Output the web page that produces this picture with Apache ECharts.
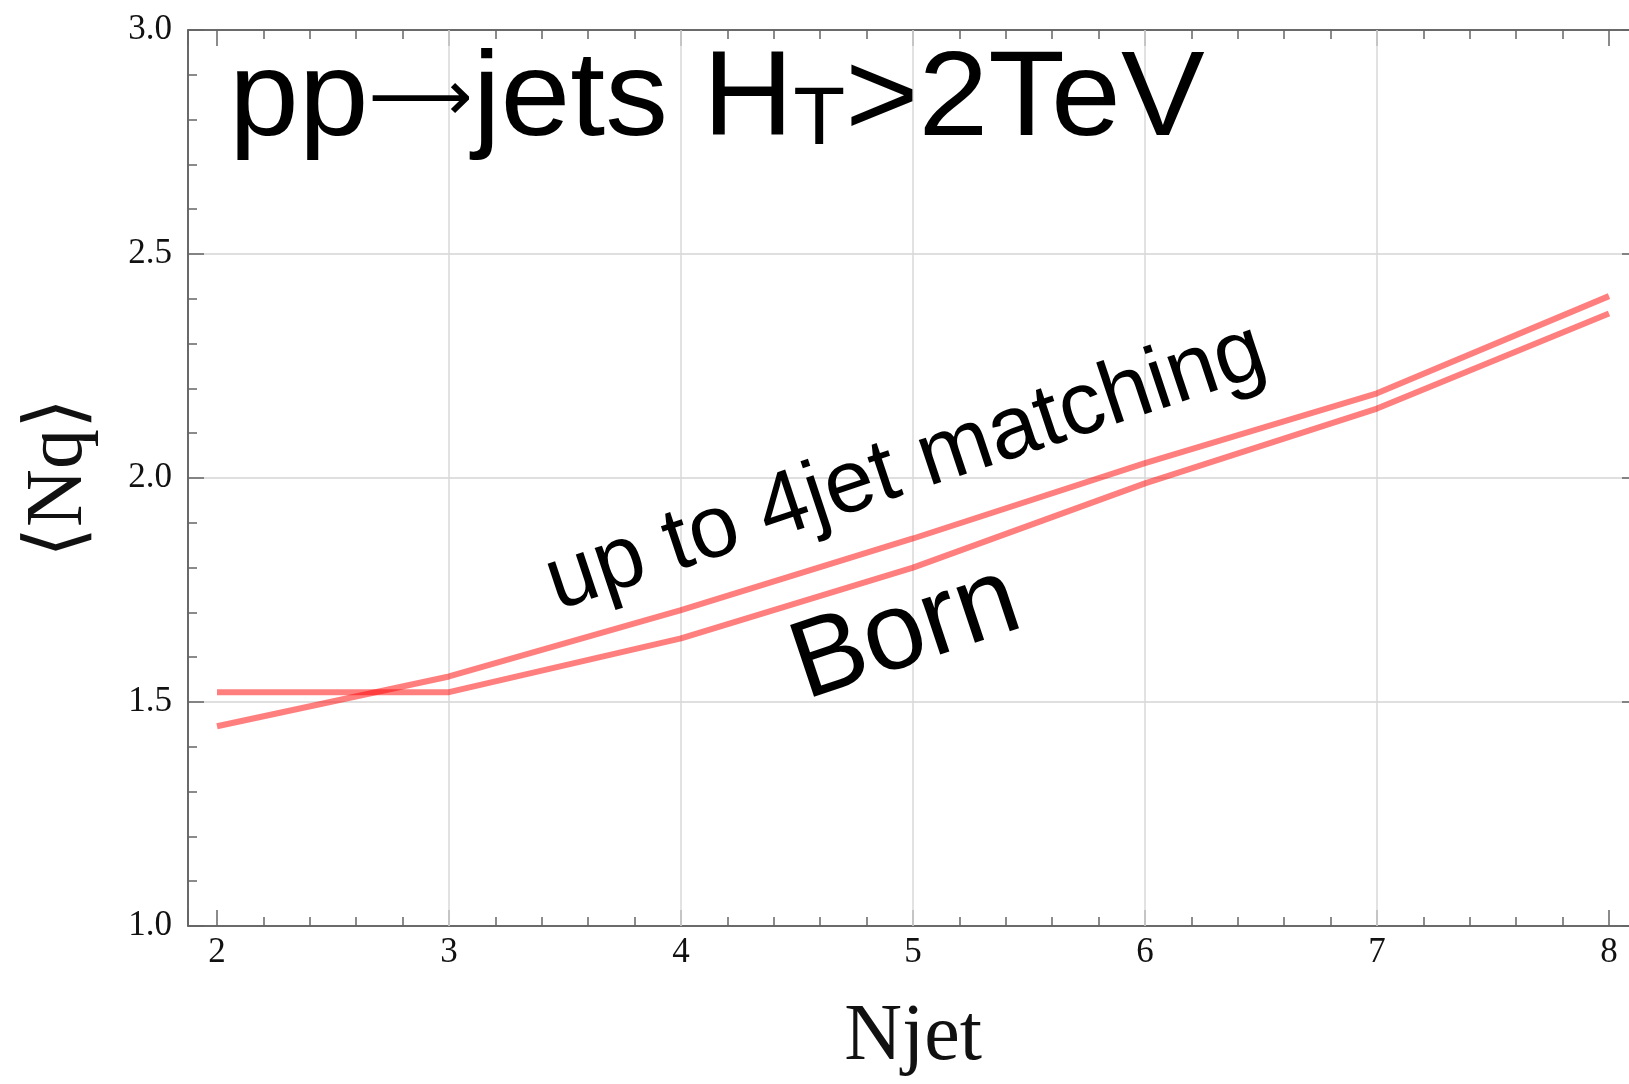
<!DOCTYPE html>
<html>
<head>
<meta charset="utf-8">
<script src="https://cdn.jsdelivr.net/npm/echarts@6/dist/echarts.min.js"></script>
<style>html,body{margin:0;padding:0;background:#fff;overflow:hidden;width:1629px;height:1084px;}#c{width:1660px;height:1084px;}</style>
</head>
<body>
<div id="c"></div>
<script>
const njet = [2, 3, 4, 5, 6, 7, 8];
const born = [1.522, 1.522, 1.642, 1.800, 1.988, 2.155, 2.367];
const matched = [1.446, 1.557, 1.705, 1.865, 2.033, 2.189, 2.406];
const xGrid = [3, 4, 5, 6, 7];
const xRange = [1.875, 8.125];
const yRange = [1.0, 3.0];
const yStep = 0.5;

const chart = echarts.init(document.getElementById('c'));
const axisLineStyle = { color: '#444', width: 1.6 };
const tickStyle = { color: '#666', width: 1.5 };
const serif = 'Liberation Serif, Times New Roman, serif';
const sans = 'Liberation Sans, Arial, sans-serif';

function xAx(pos, showLabel) {
  return {
    type: 'value', position: pos, min: xRange[0], max: xRange[1], splitNumber: 6,
    axisLine: { show: true, onZero: false, lineStyle: axisLineStyle },
    axisTick: { show: true, inside: true, length: 16, lineStyle: tickStyle },
    minorTick: { show: true, splitNumber: 5, length: 9, lineStyle: tickStyle },
    splitLine: { show: false },
    axisLabel: {
      show: showLabel, margin: 9, fontFamily: serif, fontSize: 35, color: '#111',
      formatter: v => (Math.abs(v - Math.round(v)) < 1e-6 ? String(Math.round(v)) : '')
    },
    name: showLabel ? 'Njet' : '', nameLocation: 'middle', nameGap: 72,
    nameTextStyle: { fontFamily: serif, fontSize: 80, color: '#111' }
  };
}
function yAx(pos, showLabel) {
  return {
    type: 'value', position: pos, min: yRange[0], max: yRange[1], interval: yStep,
    axisLine: { show: true, onZero: false, lineStyle: axisLineStyle },
    axisTick: { show: true, inside: true, length: 16, lineStyle: tickStyle },
    minorTick: { show: true, splitNumber: 5, length: 9, lineStyle: tickStyle },
    splitLine: { show: showLabel, lineStyle: { color: '#d4d4d4', width: 1.5 } },
    axisLabel: {
      show: showLabel, margin: 16, fontFamily: serif, fontSize: 35, color: '#111',
      padding: [0, 0, 10, 0],
      formatter: v => v.toFixed(1)
    },
    name: showLabel ? '⟨Nq⟩' : '', nameLocation: 'middle', nameGap: 88,
    nameTextStyle: { fontFamily: 'Liberation Serif, DejaVu Serif, serif', fontSize: 80, color: '#111' }
  };
}

const lineStyle = { color: 'rgba(255,0,0,0.5)', width: 6 };

chart.setOption({
  animation: false,
  backgroundColor: '#fff',
  grid: { left: 188, top: 30, right: 22, bottom: 158, containLabel: false },
  xAxis: [xAx('bottom', true), xAx('top', false)],
  yAxis: [yAx('left', true), yAx('right', false)],
  series: [
    {
      type: 'line', name: 'Born', data: njet.map((x, i) => [x, born[i]]),
      showSymbol: false, symbol: 'none', lineStyle: lineStyle, z: 3,
      markLine: {
        silent: true, symbol: 'none', label: { show: false },
        lineStyle: { color: '#d8d8d8', width: 1.5, type: 'solid' },
        data: xGrid.map(v => ({ xAxis: v })), z: 1
      }
    },
    {
      type: 'line', name: 'up to 4jet matching', data: njet.map((x, i) => [x, matched[i]]),
      showSymbol: false, symbol: 'none', lineStyle: lineStyle, z: 3
    }
  ],
  graphic: [
    {
      type: 'text', x: 229, y: 41, scaleX: 1.037, z: 10,
      style: {
        text: '{a|pp}{r|⟶}{a|jets H}{s|T}{a|>2TeV}',
        rich: {
          a: { fontFamily: sans, fontSize: 121, fill: '#000', verticalAlign: 'bottom', lineHeight: 121 },
          r: { fontFamily: 'DejaVu Sans, sans-serif', fontSize: 70, fill: '#000', verticalAlign: 'middle', lineHeight: 70 },
          s: { fontFamily: sans, fontSize: 82, fill: '#000', verticalAlign: 'bottom', lineHeight: 94 }
        }
      }
    },
    {
      type: 'text', x: 906, y: 468, rotation: 0.322, z: 10,
      style: {
        text: 'up to 4jet matching', fontFamily: sans,
        fontSize: 89, fill: '#000', align: 'center', verticalAlign: 'middle'
      }
    },
    {
      type: 'text', x: 906, y: 634, rotation: 0.322, z: 10,
      style: {
        text: 'Born', fontFamily: sans,
        fontSize: 110, fill: '#000', align: 'center', verticalAlign: 'middle'
      }
    }
  ]
});
</script>
</body>
</html>
